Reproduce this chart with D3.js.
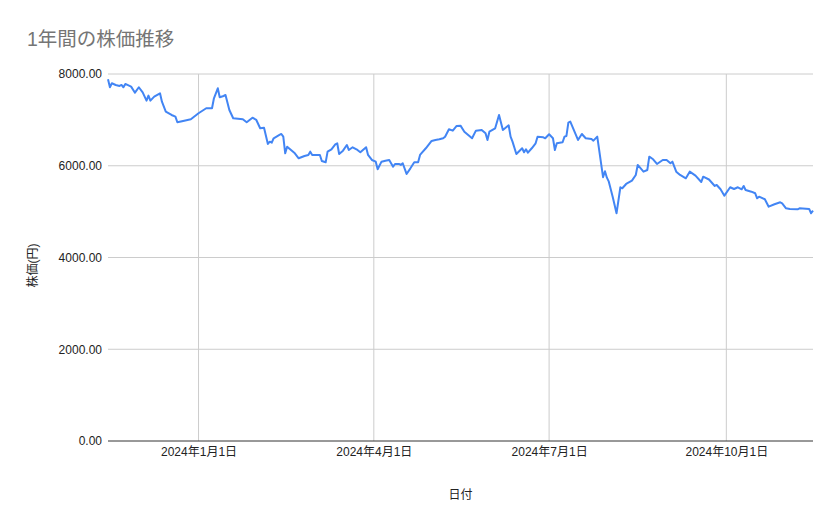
<!DOCTYPE html>
<html>
<head>
<meta charset="utf-8">
<script src="https://cdn.jsdelivr.net/npm/d3@7"></script>
<style>
  body { margin: 0; background: #fff; }
  text { font-family: Arial, "Liberation Sans", "Noto Sans CJK JP", sans-serif; }
</style>
</head>
<body>
<div id="chart"></div>
<script>
// 日付
const dates = [
  "2023-11-15","2023-11-16","2023-11-17","2023-11-19","2023-11-21","2023-11-22","2023-11-23","2023-11-24",
  "2023-11-27","2023-11-29","2023-12-01","2023-12-03","2023-12-05","2023-12-06","2023-12-07","2023-12-09",
  "2023-12-12","2023-12-13","2023-12-15","2023-12-18","2023-12-20","2023-12-21","2023-12-24","2023-12-28",
  "2024-01-01","2024-01-05","2024-01-08","2024-01-09","2024-01-11","2024-01-12","2024-01-14","2024-01-15",
  "2024-01-17","2024-01-19","2024-01-24","2024-01-26","2024-01-29","2024-01-31","2024-02-02","2024-02-04",
  "2024-02-06","2024-02-07","2024-02-08","2024-02-09","2024-02-12","2024-02-13","2024-02-14","2024-02-15",
  "2024-02-16","2024-02-18","2024-02-20","2024-02-22","2024-02-25","2024-02-27","2024-02-28","2024-02-29",
  "2024-03-02","2024-03-04","2024-03-05","2024-03-07","2024-03-08","2024-03-10","2024-03-12","2024-03-13",
  "2024-03-14","2024-03-16","2024-03-18","2024-03-19","2024-03-21","2024-03-23","2024-03-25","2024-03-28",
  "2024-03-29","2024-03-31","2024-04-02","2024-04-03","2024-04-05","2024-04-07","2024-04-09","2024-04-11",
  "2024-04-12","2024-04-14","2024-04-15","2024-04-16","2024-04-18","2024-04-20","2024-04-22","2024-04-24",
  "2024-04-25","2024-04-26","2024-04-28","2024-05-01","2024-05-03","2024-05-05","2024-05-07","2024-05-08",
  "2024-05-10","2024-05-12","2024-05-14","2024-05-16","2024-05-18","2024-05-20","2024-05-22","2024-05-24",
  "2024-05-27","2024-05-29","2024-05-30","2024-05-31","2024-06-03","2024-06-05","2024-06-07","2024-06-10",
  "2024-06-11","2024-06-12","2024-06-14","2024-06-17","2024-06-18","2024-06-19","2024-06-20","2024-06-22",
  "2024-06-24","2024-06-25","2024-06-28","2024-06-29","2024-07-01","2024-07-03","2024-07-04","2024-07-05",
  "2024-07-08","2024-07-09","2024-07-10","2024-07-11","2024-07-12","2024-07-16","2024-07-18","2024-07-20",
  "2024-07-23","2024-07-24","2024-07-26","2024-07-29","2024-07-30","2024-07-31","2024-08-01","2024-08-03",
  "2024-08-05","2024-08-07","2024-08-08","2024-08-10","2024-08-13","2024-08-15","2024-08-16","2024-08-19",
  "2024-08-21","2024-08-22","2024-08-24","2024-08-26","2024-08-29","2024-08-31","2024-09-02","2024-09-03",
  "2024-09-05","2024-09-07","2024-09-10","2024-09-12","2024-09-15","2024-09-18","2024-09-19","2024-09-22",
  "2024-09-25","2024-09-26","2024-09-28","2024-09-30","2024-10-03","2024-10-05","2024-10-07","2024-10-09",
  "2024-10-10","2024-10-11","2024-10-14","2024-10-16","2024-10-17","2024-10-18","2024-10-21","2024-10-23",
  "2024-10-26","2024-10-29","2024-10-30","2024-11-01","2024-11-03","2024-11-07","2024-11-08","2024-11-13",
  "2024-11-14","2024-11-15"
];

// 株価（円）
const prices = [
  7885,7711,7798,7761,7739,7761,7711,7783,
  7724,7593,7711,7601,7419,7528,7419,7506,
  7580,7397,7179,7107,7070,6948,6976,7013,
  7144,7253,7253,7471,7689,7493,7521,7543,
  7216,7035,7013,6948,7048,6998,6817,6830,
  6475,6525,6503,6599,6671,6693,6634,6272,
  6416,6344,6272,6163,6213,6235,6307,6235,
  6235,6235,6104,6075,6307,6359,6468,6490,
  6257,6329,6453,6344,6403,6359,6294,6403,
  6235,6126,6089,5923,6089,6111,6126,5980,
  6039,6039,6017,6054,5821,5944,6075,6075,
  6235,6285,6381,6540,6562,6577,6599,6634,
  6795,6765,6867,6874,6743,6671,6599,6765,
  6780,6708,6562,6743,6817,7107,6780,6882,
  6634,6525,6257,6381,6294,6359,6285,6381,
  6490,6634,6621,6599,6686,6599,6344,6490,
  6512,6634,6649,6939,6961,6562,6693,6599,
  6584,6547,6634,5750,5880,5740,5653,5326,
  4964,5531,5509,5603,5675,5799,6017,5871,
  5908,6198,6141,6039,6126,6126,6054,6089,
  5871,5799,5727,5871,5784,5645,5762,5700,
  5559,5581,5487,5348,5531,5494,5531,5487,
  5559,5472,5435,5400,5291,5326,5269,5108,
  5160,5204,5182,5073,5058,5051,5073,5058,
  4964,5021
];

const yTicks = [0, 2000, 4000, 6000, 8000];
const xTicks = ["2024-01-01", "2024-04-01", "2024-07-01", "2024-10-01"];

const chartTitle = "1年間の株価推移";
const xTitle = "日付";
const yTitle = "株価(円)";

const width = 839, height = 519;
const margin = { top: 74, right: 26, bottom: 78, left: 108 };

const parse = d3.timeParse("%Y-%m-%d");
const data = dates.map( ( d, i ) => ( { date: parse( d ), price: prices[ i ] } ) );

const svg = d3.select( "#chart" )
  .append( "svg" )
  .attr( "width", width )
  .attr( "height", height );

const x = d3.scaleTime()
  .domain( d3.extent( data, d => d.date ) )
  .range( [ margin.left, width - margin.right ] );

const y = d3.scaleLinear()
  .domain( [ 0, 8000 ] )
  .range( [ height - margin.bottom, margin.top ] );

// Title
svg.append( "text" )
  .attr( "x", 27 )
  .attr( "y", 46 )
  .attr( "fill", "#757575" )
  .style( "font-size", "19.5px" )
  .text( chartTitle );

// Horizontal gridlines
svg.append( "g" )
  .selectAll( "line" )
  .data( yTicks.filter( d => d > 0 ) )
  .enter()
  .append( "line" )
    .attr( "x1", margin.left )
    .attr( "x2", width - margin.right )
    .attr( "y1", d => y( d ) )
    .attr( "y2", d => y( d ) )
    .attr( "stroke", "#cccccc" )
    .attr( "stroke-width", 1 );

// Vertical gridlines
svg.append( "g" )
  .selectAll( "line" )
  .data( xTicks.map( parse ) )
  .enter()
  .append( "line" )
    .attr( "x1", d => x( d ) )
    .attr( "x2", d => x( d ) )
    .attr( "y1", margin.top )
    .attr( "y2", height - margin.bottom )
    .attr( "stroke", "#cccccc" )
    .attr( "stroke-width", 1 );

// Y axis labels
const yAxis = d3.axisLeft( y )
  .tickValues( yTicks )
  .tickFormat( d3.format( ".2f" ) )
  .tickSize( 0 )
  .tickPadding( 6 );

svg.append( "g" )
  .attr( "transform", `translate(${ margin.left },0)` )
  .call( yAxis )
  .call( g => g.select( ".domain" ).remove() )
  .selectAll( "text" )
    .attr( "fill", "#222" )
    .style( "font-size", "12px" );

// X axis labels
const xAxis = d3.axisBottom( x )
  .tickValues( xTicks.map( parse ) )
  .tickFormat( d3.timeFormat( "%Y年%-m月%-d日" ) )
  .tickSize( 0 )
  .tickPadding( 6 );

svg.append( "g" )
  .attr( "transform", `translate(0,${ height - margin.bottom })` )
  .call( xAxis )
  .call( g => g.select( ".domain" ).remove() )
  .selectAll( "text" )
    .attr( "fill", "#222" )
    .style( "font-size", "12px" );

// Baseline
svg.append( "line" )
  .attr( "x1", margin.left )
  .attr( "x2", width - margin.right )
  .attr( "y1", y( 0 ) )
  .attr( "y2", y( 0 ) )
  .attr( "stroke", "#333" )
  .attr( "stroke-width", 1 );

// Line
const line = d3.line()
  .x( d => x( d.date ) )
  .y( d => y( d.price ) );

svg.append( "path" )
  .datum( data )
  .attr( "fill", "none" )
  .attr( "stroke", "#4285f4" )
  .attr( "stroke-width", 2 )
  .attr( "stroke-linejoin", "round" )
  .attr( "d", line );

// Axis titles
svg.append( "text" )
  .attr( "x", ( margin.left + width - margin.right ) / 2 )
  .attr( "y", 499 )
  .attr( "text-anchor", "middle" )
  .attr( "fill", "#222" )
  .style( "font-size", "12px" )
  .text( xTitle );

svg.append( "text" )
  .attr( "transform", `translate(37,${ ( margin.top + height - margin.bottom ) / 2 + 8 }) rotate(-90)` )
  .attr( "text-anchor", "middle" )
  .attr( "fill", "#222" )
  .style( "font-size", "12px" )
  .text( yTitle );
</script>
</body>
</html>
